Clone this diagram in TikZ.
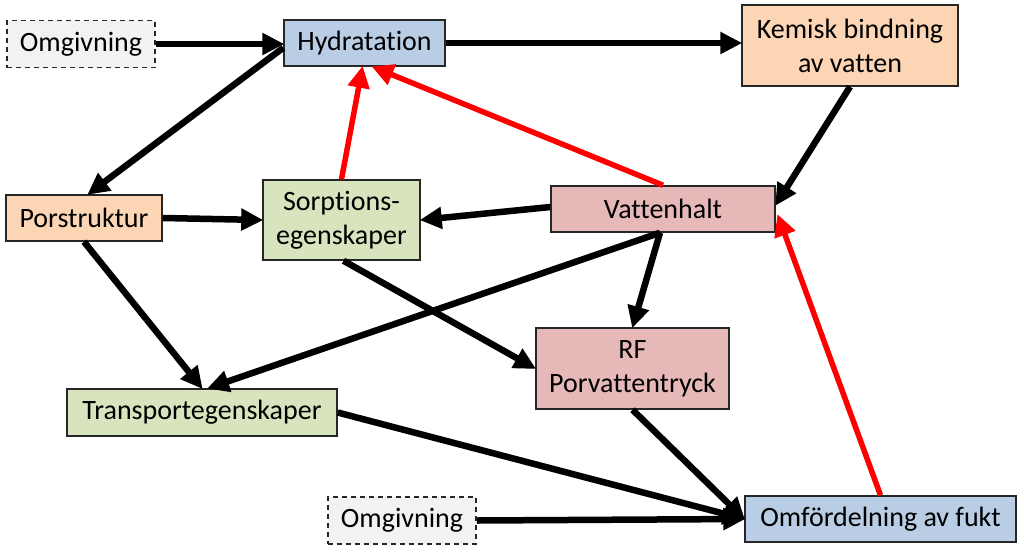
\documentclass[tikz,border=0pt]{standalone}
\usepackage{fontspec}
\setmainfont{Carlito}[Ligatures=NoCommon]
\usetikzlibrary{arrows.meta,calc}
\definecolor{cblue}{HTML}{B9CDE5}
\definecolor{corange}{HTML}{FCD5B5}
\definecolor{cgreen}{HTML}{D7E4BD}
\definecolor{cpink}{HTML}{E6B9B8}
\definecolor{cgray}{HTML}{F2F2F2}
\definecolor{cborder}{HTML}{262626}
\definecolor{cred}{HTML}{FF0000}
\tikzset{
  box/.style={draw=cborder, line width=1.5pt, inner sep=0pt, align=center,
    font=\fontsize{28}{34}\selectfont},
  envbox/.style={box, dashed, dash pattern=on 5pt off 4pt, fill=cgray},
  conn/.style={line width=6.5pt, -{Triangle[length=22pt,width=21pt]}, shorten >=-1pt},
  redconn/.style={conn, draw=cred, line width=5.5pt},
}
\begin{document}
\begin{tikzpicture}[x=1pt,y=-1pt]
\useasboundingbox (0,0) rectangle (1024,557);
\fill[white] (0,0) rectangle (1024,557);
% nodes
\node[envbox, minimum width=148pt, minimum height=47pt] (omg1) at (81,44) {Omgivning};
\node[box, fill=cblue, minimum width=161pt, minimum height=46pt] (hyd) at (364.5,43) {Hydratation};
\node[box, fill=corange, minimum width=216pt, minimum height=81pt] (kem) at (850,45.5) {Kemisk bindning\\av vatten};
\node[box, fill=corange, minimum width=156pt, minimum height=46pt] (por) at (84,218) {Porstruktur};
\node[box, fill=cgreen, minimum width=157pt, minimum height=80pt] (sorp) at (341.5,220) {Sorptions-\\egenskaper};
\node[box, fill=cpink, minimum width=224pt, minimum height=46pt] (vat) at (663,209) {Vattenhalt};
\node[box, fill=cpink, minimum width=193pt, minimum height=81pt] (rf) at (632.5,368.5) {RF\\Porvattentryck};
\node[box, fill=cgreen, minimum width=270pt, minimum height=47pt] (trans) at (202,412.5) {Transportegenskaper};
\node[envbox, minimum width=148pt, minimum height=47pt] (omg2) at (402,520.5) {Omgivning};
\node[box, fill=cblue, minimum width=271pt, minimum height=46pt] (omf) at (880.5,519) {Omfördelning av fukt};
% black connectors
\draw[conn] (omg1.east) -- (hyd.west |- omg1.east);
\draw[conn] (hyd.east) -- (kem.west |- hyd.east);
\draw[conn] ([yshift=19pt]hyd.south west) -- ([xshift=4pt]por.north);
\draw[conn] (por.east) -- (sorp.west);
\draw[conn] (por.south) -- (trans.north);
\draw[conn] ([xshift=-3pt]vat.south) -- ([xshift=6pt]trans.north);
\draw[conn] ([yshift=2pt]vat.west) -- (sorp.east);
\draw[conn] ([xshift=-3pt]vat.south) -- (rf.north);
\draw[conn] (kem.south) -- ([yshift=4pt]vat.east);
\draw[conn] ([xshift=2pt]sorp.south) -- (rf.west);
\draw[conn] (trans.east) -- (omf.west);
\draw[conn] (rf.south) -- (omf.west);
\draw[conn] (omg2.east) -- (omf.west);
% red connectors
\draw[redconn] (sorp.north) -- ([xshift=-2pt]hyd.south);
\draw[redconn] (vat.north) -- ([xshift=8pt]hyd.south);
\draw[redconn] (omf.north) -- ([xshift=2pt,yshift=-6pt]vat.east);
\end{tikzpicture}
\end{document}
